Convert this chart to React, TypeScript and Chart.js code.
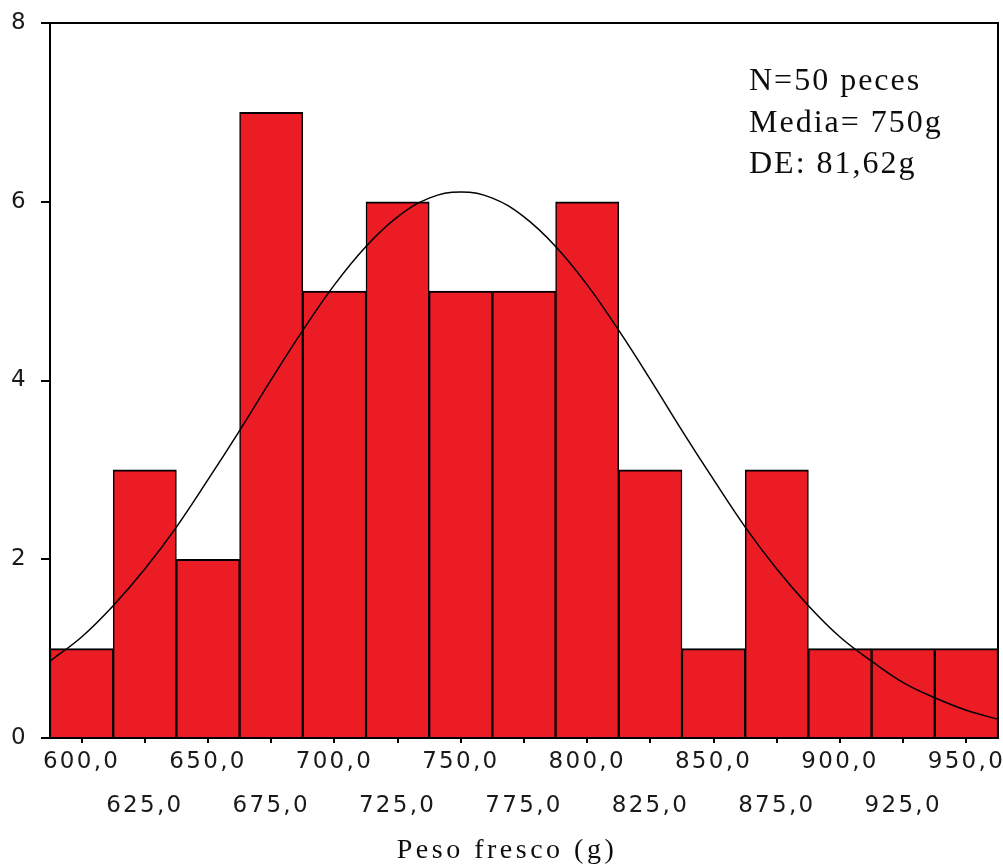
import React, { useEffect, useRef } from "react";
import { Chart, registerables } from "chart.js";

Chart.register(...registerables);

// Histogram bins (centre of each 25 g class) and fish counts
const binCenters = [600, 625, 650, 675, 700, 725, 750, 775, 800, 825, 850, 875, 900, 925, 950];
const counts = [1, 3, 2, 7, 5, 6, 5, 5, 6, 3, 1, 3, 1, 1, 1];

// Normal curve
const curveX = [
  587.5, 600, 612.5, 625, 637.5, 650, 662.5, 675, 687.5, 700, 712.5, 725, 737.5, 750, 762.5, 775,
  787.5, 800, 812.5, 825, 837.5, 850, 862.5, 875, 887.5, 900, 912.5, 925, 937.5, 950, 962.5,
];
const curveY = [
  0.86, 1.13, 1.48, 1.89, 2.36, 2.89, 3.44, 4.01, 4.56, 5.07, 5.5, 5.83, 6.04, 6.11, 6.04, 5.83,
  5.5, 5.07, 4.56, 4.01, 3.44, 2.89, 2.36, 1.89, 1.48, 1.13, 0.86, 0.62, 0.45, 0.31, 0.21,
];

const xTickValues = [600, 625, 650, 675, 700, 725, 750, 775, 800, 825, 850, 875, 900, 925, 950];
const xTickLabels = [
  "600,0", "625,0", "650,0", "675,0", "700,0", "725,0", "750,0", "775,0",
  "800,0", "825,0", "850,0", "875,0", "900,0", "925,0", "950,0",
];
const yTickValues = [0, 2, 4, 6, 8];
const yTickLabels = ["0", "2", "4", "6", "8"];

const statsLines = ["N=50 peces", "Media= 750g", "DE: 81,62g"];
const xTitle = "Peso fresco (g)";

const W = 1003;
const H = 867;

export default function App() {
  const ref = useRef<HTMLCanvasElement | null>(null);

  useEffect(() => {
    if (!ref.current) return;

    const spacingPlugin = {
      id: "spacing",
      beforeDraw(chart: any) {
        chart.ctx.letterSpacing = "2.3px";
      },
    };

    const framePlugin = {
      id: "frame",
      afterDatasetsDraw(chart: any) {
        const { ctx, chartArea } = chart;
        const { left, right, top, bottom } = chartArea;
        ctx.save();
        ctx.strokeStyle = "#000";
        ctx.lineWidth = 2;
        ctx.strokeRect(left, top, right - left, bottom - top);
        ctx.restore();
      },
    };

    const textPlugin = {
      id: "texts",
      afterDraw(chart: any) {
        const ctx = chart.ctx;
        ctx.save();
        ctx.fillStyle = "#0d0d0d";
        ctx.textBaseline = "alphabetic";
        ctx.textAlign = "left";
        ctx.letterSpacing = "2px";
        ctx.font = '32px "Liberation Serif", "Times New Roman", serif';
        const baselines = [90, 132, 173];
        statsLines.forEach((t, i) => ctx.fillText(t, 749, baselines[i]));
        ctx.letterSpacing = "3.5px";
        ctx.font = '28px "Liberation Serif", "Times New Roman", serif';
        ctx.textAlign = "center";
        ctx.fillText(xTitle, 507, 858);
        ctx.restore();
      },
    };

    const tickFont = { family: '"DejaVu Sans", "Liberation Sans", Arial, sans-serif', size: 23 };

    const chart = new Chart(ref.current, {
      type: "bar",
      data: {
        datasets: [
          {
            type: "line",
            data: curveX.map((x, i) => ({ x, y: curveY[i] })),
            borderColor: "#000",
            borderWidth: 1.5,
            pointRadius: 0,
            tension: 0.4,
            fill: false,
          } as any,
          {
            type: "bar",
            data: binCenters.map((x, i) => ({ x, y: counts[i] })),
            backgroundColor: "#EC1C24",
            borderColor: "#000",
            borderWidth: { top: 2, left: 1.5, right: 1.5, bottom: 0 },
            barPercentage: 1,
            categoryPercentage: 1,
          } as any,
        ],
      },
      options: {
        animation: false,
        responsive: false,
        devicePixelRatio: 1,
        layout: { padding: { top: 23, right: 5, left: 0, bottom: 0 } },
        plugins: {
          legend: { display: false },
          tooltip: { enabled: false },
        },
        scales: {
          x: {
            type: "linear",
            offset: false,
            min: 587.5,
            max: 962.5,
            afterBuildTicks: (s: any) => {
              s.ticks = xTickValues.map((v) => ({ value: v }));
            },
            afterFit: (s: any) => {
              s.height = 129;
              s.paddingLeft = 0;
              s.paddingRight = 0;
            },
            ticks: {
              autoSkip: false,
              maxRotation: 0,
              minRotation: 0,
              padding: -3,
              color: "#1a1a1a",
              font: { ...tickFont, lineHeight: "44px" } as any,
              callback: (v: any) => {
                const i = xTickValues.indexOf(Number(v));
                return i % 2 === 0 ? xTickLabels[i] : ["", xTickLabels[i]];
              },
            },
            grid: {
              offset: false,
              drawOnChartArea: false,
              drawTicks: true,
              tickLength: 5,
              color: "#000",
              lineWidth: 2,
            },
            border: { display: false },
          },
          y: {
            type: "linear",
            min: 0,
            max: 8,
            afterBuildTicks: (s: any) => {
              s.ticks = yTickValues.map((v) => ({ value: v }));
            },
            afterFit: (s: any) => {
              s.width = 50;
              s.paddingTop = 0;
              s.paddingBottom = 0;
            },
            ticks: {
              padding: 13,
              color: "#1a1a1a",
              font: tickFont as any,
              callback: (v: any) => yTickLabels[yTickValues.indexOf(Number(v))],
            },
            grid: {
              drawOnChartArea: false,
              drawTicks: true,
              tickLength: 9,
              color: "#000",
              lineWidth: 2,
            },
            border: { display: false },
          },
        },
      } as any,
      plugins: [spacingPlugin, framePlugin, textPlugin],
    });

    return () => chart.destroy();
  }, []);

  return (
    <div style={{ position: "fixed", left: 0, top: 0, width: W, height: H, background: "#fff" }}>
      <canvas ref={ref} width={W} height={H} style={{ width: W, height: H, display: "block" }} />
    </div>
  );
}
